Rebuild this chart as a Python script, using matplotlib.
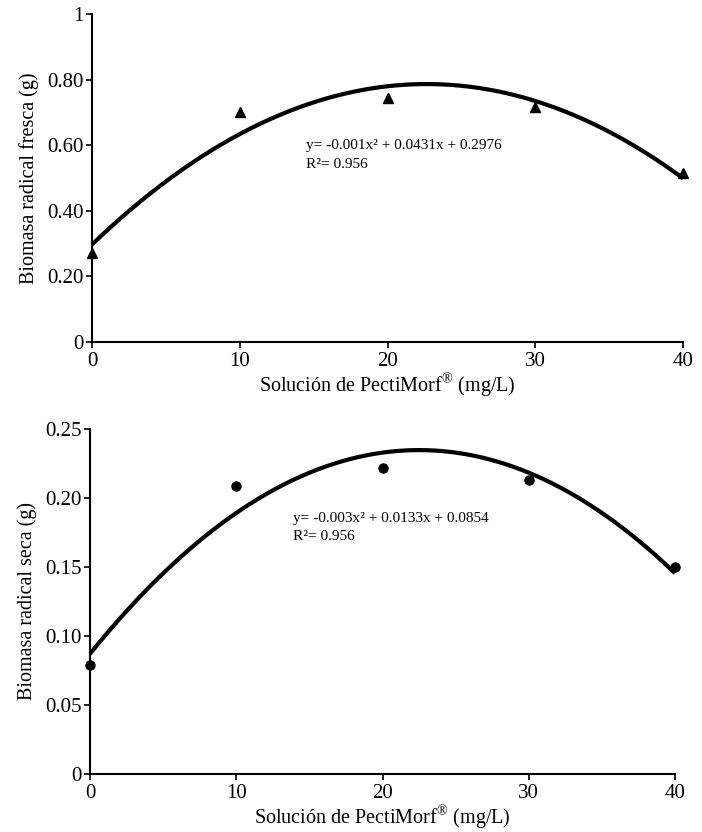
import numpy as np
import matplotlib
matplotlib.use("Agg")
import matplotlib.pyplot as plt

plt.rcParams['font.family'] = ['Liberation Serif', 'DejaVu Serif']
plt.rcParams['mathtext.fontset'] = 'custom'
plt.rcParams['mathtext.rm'] = 'Liberation Serif'

# Data
dose = [0, 10, 20, 30, 40]
fresh = [0.27, 0.70, 0.745, 0.715, 0.515]
dry = [0.079, 0.209, 0.222, 0.213, 0.150]

x_ticks = [0, 10, 20, 30, 40]
fresh_ticks = [0, 0.2, 0.4, 0.6, 0.8, 1.0]
fresh_tick_labels = ['0', '0.20', '0.40', '0.60', '0.80', '1']
dry_ticks = [0, 0.05, 0.10, 0.15, 0.20, 0.25]
dry_tick_labels = ['0', '0.05', '0.10', '0.15', '0.20', '0.25']

xlabel = 'Solución de PectiMorf$^{\\mathrm{®}}$ (mg/L)'
fresh_ylabel = 'Biomasa radical fresca (g)'
dry_ylabel = 'Biomasa radical seca (g)'
fresh_eq = ['y= -0.001x² + 0.0431x + 0.2976', 'R²= 0.956']
dry_eq = ['y= -0.003x² + 0.0133x + 0.0854', 'R²= 0.956']

W, H = 702, 832
fig = plt.figure(figsize=(W / 100, H / 100), dpi=100)

def px_axes(l, r, t, b):
    return fig.add_axes([l / W, 1 - b / H, (r - l) / W, (b - t) / H])

ax1 = px_axes(92, 683, 14, 342)
ax2 = px_axes(90, 675, 429, 774)

xs = np.linspace(0, 40, 300)

def style(ax, yticks, ylabels, ylim, ylabel):
    for s in ['top', 'right']:
        ax.spines[s].set_visible(False)
    for s in ['left', 'bottom']:
        ax.spines[s].set_linewidth(1.5)
    ax.set_xlim(0, 40)
    ax.set_ylim(*ylim)
    ax.set_xticks(x_ticks)
    ax.set_yticks(yticks)
    ax.set_yticklabels(ylabels)
    ax.tick_params(direction='out', length=4, width=1.2, labelsize=15)
    ax.tick_params(axis='x', pad=3.5)
    ax.tick_params(axis='y', pad=2)
    ax.set_xlabel(xlabel, fontsize=14.5, labelpad=0)
    ax.set_ylabel(ylabel, fontsize=14.5, labelpad=6)

# Top panel
c1 = np.polyfit(dose, fresh, 2)
ax1.plot(xs, np.polyval(c1, xs), color='black', lw=3, solid_capstyle='butt', clip_on=False)
ax1.plot(dose, fresh, linestyle='none', marker='^', color='black', markersize=7, clip_on=False, zorder=5)
style(ax1, fresh_ticks, fresh_tick_labels, (0, 1), fresh_ylabel)
ax1.text(14.5, 0.598, fresh_eq[0], fontsize=11, va='center', ha='left')
ax1.text(14.5, 0.540, fresh_eq[1], fontsize=11, va='center', ha='left')

# Bottom panel
c2 = np.polyfit(dose, dry, 2)
ax2.plot(xs, np.polyval(c2, xs), color='black', lw=3, solid_capstyle='butt', clip_on=False)
ax2.plot(dose, dry, linestyle='none', marker='o', color='black', markersize=6.5, clip_on=False, zorder=5)
style(ax2, dry_ticks, dry_tick_labels, (0, 0.25), dry_ylabel)
ax2.text(13.9, 0.1855, dry_eq[0], fontsize=11, va='center', ha='left')
ax2.text(13.9, 0.172, dry_eq[1], fontsize=11, va='center', ha='left')

fig.savefig('out.png', dpi=100)
